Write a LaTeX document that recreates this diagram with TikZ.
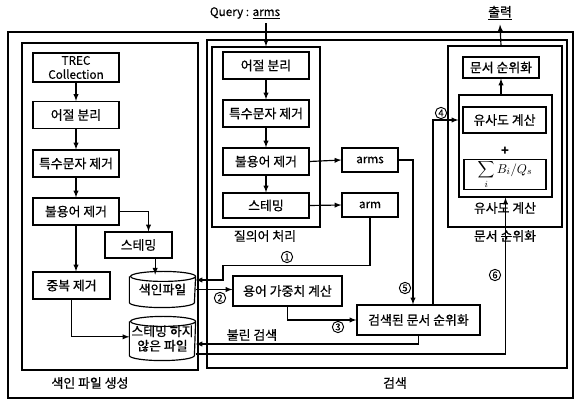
\documentclass[tikz,border=0pt]{standalone}
\usepackage{fontspec}
\setmainfont{Noto Sans CJK KR}[UprightFeatures={FakeBold=0.6}]
\newfontfamily\latinfont{Noto Sans CJK KR}[UprightFeatures={FakeBold=0.4}]
\usetikzlibrary{shapes.geometric}

\begin{document}
\begin{tikzpicture}[x=0.03cm, y=-0.03cm, >=latex, line width=1pt,
  font=\fontsize{11}{12.5}\selectfont,
  box/.style={draw, rectangle, inner xsep=0pt, inner ysep=1pt, minimum width=2.58cm, minimum height=0.81cm},
  group/.style={draw, rectangle, inner sep=0pt},
  disk/.style={rectangle, inner sep=0pt, align=center},
  num/.style={draw, circle, inner sep=0pt, minimum size=0.34cm, line width=0.8pt, font=\latinfont\footnotesize}]

  \useasboundingbox (0,0) rectangle (574,401);

  % Frames around the two stages
  \node[group, minimum width=16.95cm, minimum height=10.98cm] (frame) at (290.5,215) {};
  \node[group, minimum width=5.28cm, minimum height=9.81cm] (leftpanel) at (110,206.5) {};
  \node[group, minimum width=10.8cm, minimum height=9.84cm] (searchpanel) at (387,204) {};
  \node[group, minimum width=3.24cm, minimum height=5.4cm] (qgroup) at (266,137) {};
  \node[group, minimum width=3.42cm, minimum height=5.43cm] (rgroup) at (505,136.5) {};
  \node[group, minimum width=2.79cm, minimum height=3.06cm] (sgroup) at (505.5,146) {};

  % Stage labels
  \node (idxlabel) at (90,383) {색인 파일 생성};
  \node (searchlabel) at (395,383) {검색};
  \node (qlabel) at (265,236) {질의어 처리};
  \node (rlabel) at (505,236) {문서 순위화};
  \node (slabel) at (505,208) {유사도 계산};
  \node (boollabel) at (252,335) {불린 검색};

  % Index file building
  \node[box, align=center, minimum height=0.87cm, font=\latinfont] (trec) at (76,67.5) {TREC\\Collection};
  \node[box] (leojeol) at (76,115) {어절 분리};
  \node[box] (lspecial) at (76,163.5) {특수문자 제거};
  \node[box] (lstop) at (76,211.5) {불용어 제거};
  \node[box, minimum width=2.01cm, minimum height=0.78cm] (lstem) at (138.5,245) {스테밍};
  \node[box, minimum width=2.31cm] (dedup) at (71.5,285.5) {중복 제거};
  \node[disk, minimum width=1.95cm, minimum height=1.05cm] (idxfile) at (162.5,289.5)
    {\makebox[0pt]{\raisebox{-2pt}{색인파일}}};
  \node[disk, minimum width=1.95cm, minimum height=1.29cm] (rawfile) at (162.5,338.5)
    {\makebox[0pt]{스테밍 하지}\\\makebox[0pt]{않은 파일}};

  % Cylinder outlines of the two files
  \draw ([yshift=-0.15cm]idxfile.north west) -- ([yshift=0.15cm]idxfile.south west)
    arc[start angle=180, end angle=360, x radius=0.975cm, y radius=0.15cm]
    -- ([yshift=-0.15cm]idxfile.north east)
    arc[start angle=0, end angle=180, x radius=0.975cm, y radius=0.15cm]
    arc[start angle=180, end angle=360, x radius=0.975cm, y radius=0.15cm];
  \draw ([yshift=-0.15cm]rawfile.north west) -- ([yshift=0.15cm]rawfile.south west)
    arc[start angle=180, end angle=360, x radius=0.975cm, y radius=0.15cm]
    -- ([yshift=-0.15cm]rawfile.north east)
    arc[start angle=0, end angle=180, x radius=0.975cm, y radius=0.15cm]
    arc[start angle=180, end angle=360, x radius=0.975cm, y radius=0.15cm];

  \draw[->] (trec) -- (leojeol);
  \draw[->] (leojeol) -- (lspecial);
  \draw[->] (lspecial) -- (lstop);
  \draw[->] (lstop.east) -| ([xshift=0.3cm]lstem.north);
  \draw[->] (lstop.south) -- (lstop.south |- dedup.north);
  \draw[->] ([xshift=0.5cm]lstem.south) -- ([xshift=0.5cm, yshift=-0.1cm]lstem.south |- idxfile.north);
  \draw[->] (dedup.south) |- ([yshift=0.05cm]rawfile.west);

  % Query processing
  \node[font=\latinfont] (query) at (245,13) {Query : \underline{arms}};
  \node[box] (qeojeol) at (266,65.5) {어절 분리};
  \node[box] (qspecial) at (266,113.5) {특수문자 제거};
  \node[box] (qstop) at (266,161.5) {불용어 제거};
  \node[box, minimum height=0.75cm] (qstem) at (266,205.5) {스테밍};
  \node[box, minimum width=1.68cm, minimum height=0.72cm, font=\latinfont] (arms) at (370,160) {arms};
  \node[box, minimum width=1.68cm, minimum height=0.72cm, font=\latinfont] (arm) at (370,205) {arm};

  \draw[->] (query.south -| qeojeol) -- (qgroup.north -| qeojeol);
  \draw[->] (qeojeol) -- (qspecial);
  \draw[->] (qspecial) -- (qstop);
  \draw[->] (qstop) -- (qstem);
  \draw[->] (qstop.east) -- (arms.west);
  \draw[->] (qstem.east) -- (arm.west);

  % Boolean search and weighting
  \node[box, minimum width=3.27cm, minimum height=0.9cm] (weight) at (287.5,291) {용어 가중치 계산};
  \node[box, minimum width=3.69cm, minimum height=0.9cm] (ranked) at (418.5,320) {검색된 문서 순위화};

  \draw[->] (arm.south) -- ++(0,48) -| (223,280) -- (idxfile.east |- 223,280);
  \draw[->] (idxfile.east) -- (weight.west |- idxfile.east);
  \draw[->] (weight.south) |- (ranked.west);
  \draw[->] (ranked.south) |- ([yshift=-0.165cm]rawfile.east);
  \draw[->] (arms.east) -| ([xshift=-0.165cm]ranked.north);

  % Ranking of documents
  \node[box, minimum width=2.28cm, minimum height=0.63cm] (finalrank) at (501,67.5) {문서 순위화};
  \node[box, minimum width=2.49cm, minimum height=0.78cm] (sim) at (504.5,120) {유사도 계산};
  \node (plus) at (505,151) {\textbf{+}};
  \node[box, minimum width=2.46cm, minimum height=0.81cm] (formula) at (505,174.5) {$\displaystyle\sum_i B_i/Q_s$};
  \node (output) at (500,13) {\underline{출력}};

  \draw[->] ([xshift=0.435cm]ranked.north) |- (sgroup.west |- sim);
  \draw[->] ([yshift=-0.465cm]rawfile.east) -| (sgroup.south);
  \draw[->] (sgroup.north -| finalrank) -- (finalrank.south);
  \draw[->] (rgroup.north -| finalrank) -- (output.south);

  % Step numbers
  \node[num] (n1) at (287,257) {1};
  \node[num] (n2) at (220,298) {2};
  \node[num] (n3) at (338,327) {3};
  \node[num] (n4) at (441,113) {4};
  \node[num] (n5) at (405,288) {5};
  \node[num] (n6) at (495,275) {6};

\end{tikzpicture}
\end{document}
